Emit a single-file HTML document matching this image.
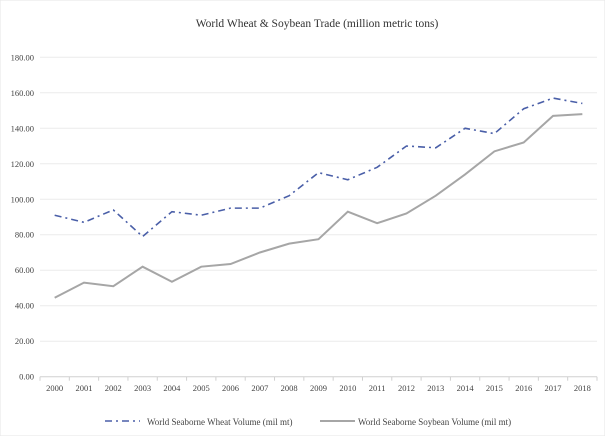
<!DOCTYPE html>
<html><head><meta charset="utf-8"><style>
body{margin:0;background:#fff;font-family:"Liberation Serif",serif;}
svg text{font-family:"Liberation Serif",serif;}
</style></head><body>
<svg width="605" height="436" viewBox="0 0 605 436">
<rect x="0" y="0" width="605" height="436" fill="#fff" stroke="#e6e6e6"/>
<text x="317" y="27" text-anchor="middle" font-size="11.5" fill="#333">World Wheat &amp; Soybean Trade (million metric tons)</text>
<g id="grid"></g><g id="xaxis"></g><g id="series"></g>
<g>
<g>
<line x1="105" y1="421" x2="140" y2="421" stroke="#4a5fa8" stroke-width="1.6" stroke-dasharray="7,4,2,4"/>
<text x="147" y="425" font-size="9" fill="#444">World Seaborne Wheat Volume (mil mt)</text></g>
<g>
<line x1="320" y1="421" x2="355" y2="421" stroke="#a6a6a6" stroke-width="2"/>
<text x="358" y="425" font-size="9" fill="#444">World Seaborne Soybean Volume (mil mt)</text></g>
</g>
</svg>
<script>
const years=["2000","2001","2002","2003","2004","2005","2006","2007","2008","2009","2010","2011","2012","2013","2014","2015","2016","2017","2018"];
const wheat=[91,87,94,79,93,91,95,95,102,115,111,118,130,129,140,137,151,157,154];
const soybean=[44.5,53,51,62,53.5,62,63.5,70,75,77.5,93,86.5,92,102,114,127,132,147,148];
const yTicks=[0,20,40,60,80,100,120,140,160,180];
const NS="http://www.w3.org/2000/svg";
const L=40,R=597,T=57.3,B=376.7,YMAX=180;
const step=(R-L)/years.length;
const x=i=>L+step*(i+0.5);
const y=v=>B-(v/YMAX)*(B-T);
function mk(t,a,p){const e=document.createElementNS(NS,t);for(const k in a)e.setAttribute(k,a[k]);p.appendChild(e);return e;}
const g=document.getElementById('grid');
yTicks.forEach(v=>{
 const l=mk('line',{x1:L,x2:R,y1:y(v),y2:y(v),stroke:v===0?'#d0d0d0':'#ececec','stroke-width':1},g);
 
 
 const t=mk('text',{x:34,y:y(v)+3,'text-anchor':'end','font-size':'8.5',fill:'#444'},g);
 t.textContent=v.toFixed(2);
 
 
});
const xa=document.getElementById('xaxis');
for(let i=0;i<=years.length;i++){
 const tk=mk('line',{x1:L+step*i,x2:L+step*i,y1:B,y2:B+4,stroke:'#d0d0d0'},xa);
 
 
}
years.forEach((yr,i)=>{
 const t=mk('text',{x:x(i),y:391,'text-anchor':'middle','font-size':'8.5',fill:'#444'},xa);
 t.textContent=yr;
 
 
});
const s=document.getElementById('series');
const pw=mk('polyline',{points:wheat.map((v,i)=>x(i)+','+y(v)).join(' '),fill:'none',stroke:'#4a5fa8','stroke-width':1.6,'stroke-dasharray':'7,4,2,4'},s);


const ps=mk('polyline',{points:soybean.map((v,i)=>x(i)+','+y(v)).join(' '),fill:'none',stroke:'#a6a6a6','stroke-width':2},s);


</script>
</body></html>
